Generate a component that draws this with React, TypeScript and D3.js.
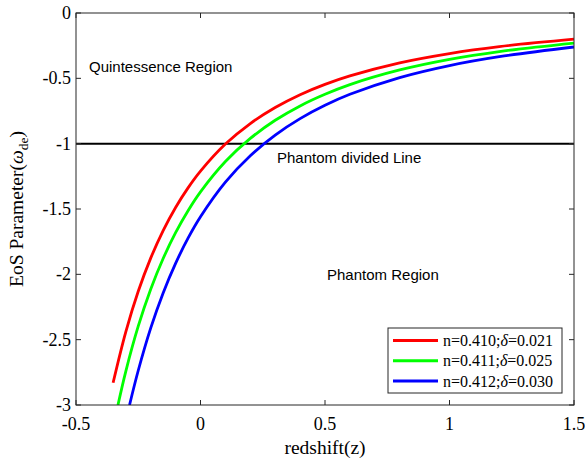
import React from "react";
import * as d3 from "d3";

const redZ = [-0.351, -0.3, -0.25, -0.2, -0.15, -0.1, -0.05, 0, 0.1, 0.2, 0.3, 0.4, 0.5, 0.6, 0.8, 1.0, 1.2, 1.5];
const redW = [-2.83, -2.44, -2.13, -1.876, -1.665, -1.488, -1.338, -1.21, -1.003, -0.846, -0.723, -0.625, -0.546, -0.481, -0.381, -0.31, -0.257, -0.2];
const greenZ = [-0.3315, -0.3, -0.25, -0.2, -0.15, -0.1, -0.05, 0, 0.1, 0.2, 0.3, 0.4, 0.5, 0.6, 0.8, 1.0, 1.2, 1.5];
const greenW = [-3.0, -2.742, -2.397, -2.114, -1.879, -1.681, -1.513, -1.369, -1.137, -0.96, -0.821, -0.711, -0.622, -0.548, -0.436, -0.355, -0.295, -0.23];
const blueZ = [-0.285, -0.25, -0.2, -0.15, -0.1, -0.05, 0, 0.1, 0.2, 0.3, 0.4, 0.5, 0.6, 0.8, 1.0, 1.2, 1.5];
const blueW = [-3.0, -2.736, -2.412, -2.142, -1.916, -1.723, -1.559, -1.294, -1.092, -0.934, -0.808, -0.706, -0.622, -0.494, -0.402, -0.334, -0.26];

const xTicks = [-0.5, 0, 0.5, 1, 1.5];
const yTicks = [0, -0.5, -1, -1.5, -2, -2.5, -3];
const seriesLabels = [
  { n: "0.410", d: "0.021", color: "#ff0000" },
  { n: "0.411", d: "0.025", color: "#00ff00" },
  { n: "0.412", d: "0.030", color: "#0000ff" },
];

export default function App() {
  const W = 585, H = 463;
  const L = 76, R = 574, T = 13, B = 405;
  const x = d3.scaleLinear().domain([-0.5, 1.5]).range([L, R]);
  const y = d3.scaleLinear().domain([-3, 0]).range([B, T]);
  const line = d3
    .line<[number, number]>()
    .x((d) => x(d[0]))
    .y((d) => y(d[1]))
    .curve(d3.curveCatmullRom.alpha(0.5));
  const series = [
    { z: redZ, w: redW, color: "#ff0000" },
    { z: greenZ, w: greenW, color: "#00ff00" },
    { z: blueZ, w: blueW, color: "#0000ff" },
  ];
  const axisColor = "#262626";
  const serif = "'Liberation Serif', 'Times New Roman', serif";
  const sans = "'Liberation Sans', Arial, sans-serif";
  const fmt = (v: number) => (v === 0 ? "0" : String(v));
  return (
    <svg width={W} height={H} style={{ position: "absolute", left: 0, top: 0, background: "#fff" }}>
      <rect x={0} y={0} width={W} height={H} fill="#fff" />
      <defs>
        <clipPath id="plot">
          <rect x={L} y={T} width={R - L} height={B - T} />
        </clipPath>
      </defs>
      <g clipPath="url(#plot)">
        <line x1={L} x2={R} y1={y(-1)} y2={y(-1)} stroke="#000" strokeWidth={2} />
        {series.map((s, i) => (
          <path
            key={i}
            d={line(s.z.map((z, j) => [z, s.w[j]] as [number, number])) || ""}
            fill="none"
            stroke={s.color}
            strokeWidth={2.8}
          />
        ))}
      </g>
      <rect x={L} y={T} width={R - L} height={B - T} fill="none" stroke={axisColor} strokeWidth={1} />
      {xTicks.map((t) => (
        <g key={"x" + t}>
          <line x1={x(t)} x2={x(t)} y1={B} y2={B - 5} stroke={axisColor} />
          <line x1={x(t)} x2={x(t)} y1={T} y2={T + 5} stroke={axisColor} />
          <text x={x(t)} y={430} textAnchor="middle" fontFamily={serif} fontSize={18} fill="#000">
            {fmt(t)}
          </text>
        </g>
      ))}
      {yTicks.map((t) => (
        <g key={"y" + t}>
          <line x1={L} x2={L + 5} y1={y(t)} y2={y(t)} stroke={axisColor} />
          <line x1={R} x2={R - 5} y1={y(t)} y2={y(t)} stroke={axisColor} />
          <text x={L - 5} y={y(t) + 6} textAnchor="end" fontFamily={serif} fontSize={18} fill="#000">
            {fmt(t)}
          </text>
        </g>
      ))}
      <text x={(L + R) / 2} y={454} textAnchor="middle" fontFamily={serif} fontSize={19.5} fill="#000">
        redshift(z)
      </text>
      <text
        transform={`translate(23, 209) rotate(-90)`}
        textAnchor="middle"
        fontFamily={serif}
        fontSize={19.5}
        fill="#000"
      >
        EoS Parameter(<tspan fontStyle="italic">ω</tspan>
        <tspan dy={5} fontSize={13.5}>de</tspan>
        <tspan dy={-5}>)</tspan>
      </text>
      <text x={89} y={72} fontFamily={sans} fontSize={15} fill="#000">
        Quintessence Region
      </text>
      <text x={277} y={163} fontFamily={sans} fontSize={15} fill="#000">
        Phantom divided Line
      </text>
      <text x={327} y={280} fontFamily={sans} fontSize={15} fill="#000">
        Phantom Region
      </text>
      <rect x={388} y={328} width={174} height={65} fill="#fff" stroke={axisColor} strokeWidth={1} />
      {seriesLabels.map((s, i) => (
        <g key={"l" + i}>
          <line x1={393} x2={438} y1={340.5 + i * 20.3} y2={340.5 + i * 20.3} stroke={s.color} strokeWidth={3} />
          <text x={443} y={346 + i * 20.3} fontFamily={serif} fontSize={16} fill="#000">
            n={s.n};<tspan fontStyle="italic">δ</tspan>={s.d}
          </text>
        </g>
      ))}
    </svg>
  );
}
